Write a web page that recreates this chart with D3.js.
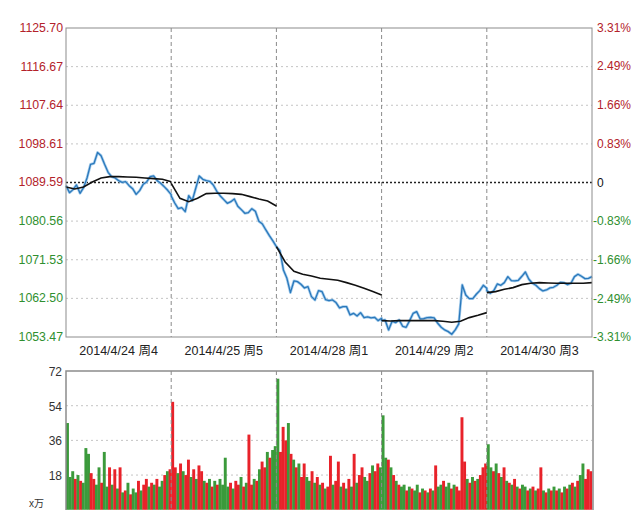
<!DOCTYPE html>
<html>
<head>
<meta charset="utf-8">
<script src="https://cdn.jsdelivr.net/npm/d3@7"></script>
<style>
  body { margin: 0; background: #fff; }
  svg text { font-family: "Liberation Sans", Arial, "Noto Sans CJK SC", sans-serif; }
</style>
</head>
<body>
<script>
// trading days (x labels)
const days = ["2014/4/24 周4", "2014/4/25 周5", "2014/4/28 周1", "2014/4/29 周2", "2014/4/30 周3"];
const prevClose = 1089.59;
const priceTicks = [1125.70, 1116.67, 1107.64, 1098.61, 1089.59, 1080.56, 1071.53, 1062.50, 1053.47];
const pctTicks = [3.31, 2.49, 1.66, 0.83, 0, -0.83, -1.66, -2.49, -3.31];
const volTicks = [72, 54, 36, 18];

// index price, one value every 8 minutes (0..240) per day
const price1 = [1088.85, 1087.21, 1087.92, 1089.01, 1087.06, 1088.38, 1090.64, 1093.84, 1094.07, 1096.60, 1095.86,
  1093.84, 1091.97, 1090.95, 1090.64, 1090.02, 1089.63, 1089.78, 1088.85, 1088.15, 1086.82, 1087.68,
  1089.16, 1089.71, 1090.95, 1091.11, 1090.02, 1089.40, 1088.62, 1087.76, 1086.75];
const price2 = [1086.44, 1084.80, 1083.47, 1083.71, 1082.77, 1086.51, 1085.34, 1088.23, 1091.11, 1090.33, 1090.02,
  1089.86, 1089.01, 1087.53, 1086.44, 1085.58, 1084.72, 1085.11, 1085.73, 1084.02, 1083.24, 1082.38,
  1082.54, 1083.47, 1082.85, 1080.51, 1079.89, 1078.49, 1077.16, 1075.92, 1074.59];
const price3 = [1074.59, 1073.66, 1069.14, 1067.19, 1063.84, 1066.57, 1066.41, 1065.79, 1064.93, 1065.25, 1062.91,
  1062.13, 1064.31, 1064.08, 1062.21, 1061.97, 1062.13, 1061.51, 1060.26, 1060.57, 1060.57, 1058.63,
  1059.01, 1058.39, 1059.17, 1058.00, 1058.16, 1057.92, 1058.08, 1057.30, 1057.85];
const price4 = [1057.30, 1057.46, 1055.12, 1057.15, 1056.83, 1057.46, 1055.98, 1055.74, 1057.30, 1059.01, 1059.40,
  1057.69, 1057.77, 1058.00, 1058.08, 1057.92, 1056.68, 1055.74, 1055.12, 1054.73, 1054.11, 1055.12,
  1056.52, 1065.64, 1063.30, 1062.44, 1062.44, 1063.46, 1064.31, 1065.56, 1064.86];
const price5 = [1064.31, 1063.69, 1064.31, 1065.87, 1065.56, 1066.18, 1067.58, 1066.65, 1066.57, 1066.73, 1067.66,
  1068.67, 1066.96, 1066.03, 1065.56, 1064.78, 1064.23, 1064.47, 1064.94, 1065.09, 1065.56, 1066.26,
  1066.18, 1065.71, 1066.03, 1067.58, 1068.13, 1067.66, 1067.12, 1067.19, 1067.58];

// average price, one value every 20 minutes per day
const avg1 = [1088.54, 1088.07, 1088.54, 1089.71, 1090.64, 1090.95, 1090.95, 1090.88, 1090.80, 1090.64, 1090.49, 1090.33, 1089.78];
const avg2 = [1089.40, 1085.89, 1085.11, 1085.89, 1086.98, 1087.06, 1087.06, 1086.98, 1086.82, 1086.28, 1085.73, 1085.27, 1084.10];
const avg3 = [1074.59, 1071.01, 1068.83, 1068.13, 1067.74, 1067.19, 1066.96, 1066.73, 1066.18, 1065.56, 1064.86, 1064.08, 1063.30];
const avg4 = [1057.30, 1057.22, 1057.30, 1057.30, 1057.30, 1057.30, 1057.30, 1057.15, 1056.91, 1057.15, 1058.00, 1058.55, 1059.17];
const avg5 = [1063.84, 1064.08, 1064.62, 1065.01, 1065.71, 1066.03, 1066.18, 1066.10, 1066.03, 1066.03, 1066.03, 1066.03, 1066.18];

// volume (x万), one bar every 6 minutes; r = up, g = down
const vol1 = [45, 17, 20, 16, 18, 15, 14, 32, 29, 19, 16, 13, 22, 14, 30, 12, 22, 13, 21, 11,
  22, 9, 10, 14, 8, 11, 9, 15, 10, 13, 16, 12, 14, 13, 16, 12, 15, 18, 20, 21];
const dir1 = "gggrgrgggrrggrggrgrgrgrgrggrgrrgrgrggrgr";
const vol2 = [56, 22, 19, 24, 20, 18, 26, 17, 21, 16, 23, 20, 15, 14, 16, 12, 15, 13, 16, 13,
  27, 12, 14, 11, 15, 13, 17, 12, 14, 39, 13, 16, 15, 21, 25, 22, 30, 27, 31, 33];
const dir2 = "rrgrgrrgrgrrgrgrgrggggrgrrgrgrrgrgrrgrgg";
const vol3 = [68, 30, 43, 36, 45, 29, 26, 22, 24, 17, 24, 17, 15, 20, 14, 17, 13, 14, 11, 12,
  28, 13, 15, 25, 12, 14, 11, 16, 12, 29, 14, 18, 22, 17, 15, 19, 23, 20, 24, 22];
const dir3 = "grrrgrgrgrrggrgrgrgrrgrrgrgrgrgrrggrgrrg";
const vol4 = [49, 27, 26, 22, 18, 15, 13, 12, 13, 10, 12, 11, 10, 13, 9, 11, 10, 9, 11, 10,
  23, 12, 13, 15, 12, 14, 11, 13, 12, 10, 48, 25, 16, 14, 17, 15, 16, 18, 22, 24];
const dir4 = "ggrgrgrggrgrggrgrgrgrggrggrgrrrrgrgrgrrr";
const vol5 = [34, 22, 20, 24, 19, 17, 22, 15, 14, 13, 16, 12, 11, 13, 12, 10, 11, 12, 10, 11,
  22, 10, 9, 11, 10, 12, 10, 11, 9, 12, 11, 13, 14, 12, 15, 18, 24, 16, 21, 20];
const dir5 = "ggrgrgrgrgrgrggrgrgrrgrgrgrgrgrgrgrggrrr";

const prices = [price1, price2, price3, price4, price5];
const avgs = [avg1, avg2, avg3, avg4, avg5];
const vols = [vol1, vol2, vol3, vol4, vol5];
const dirs = [dir1, dir2, dir3, dir4, dir5];

const W = 634, H = 510;
const left = 66, right = 592;
const top1 = 28, bot1 = 337;
const top2 = 371, bot2 = 509.75;
const RED = "#b3222a", GREEN = "#2f8f2f";

const svg = d3.select("body").append("svg").attr("width", W).attr("height", H);

const x = d3.scaleLinear().domain([0, 1200]).range([left, right]);
const y = d3.scaleLinear().domain([1053.47, 1125.70]).range([bot1, top1]);
const yPct = d3.scaleLinear().domain([-3.31, 3.31]).range([bot1, top1]);
const yVol = d3.scaleLinear().domain([0, 72]).range([bot2, top2]);

// grid, top panel
svg.append("g")
  .selectAll("line")
  .data(priceTicks.filter(d => d != 1125.70 && d != 1053.47))
  .enter()
  .append("line")
  .attr("x1", left).attr("x2", right)
  .attr("y1", d => y(d)).attr("y2", d => y(d))
  .attr("stroke", d => d == prevClose ? "#222" : "#c4c4c4")
  .attr("stroke-width", d => d == prevClose ? 1.6 : 1)
  .attr("stroke-dasharray", d => d == prevClose ? "2,2" : "2,3");

// grid, bottom panel
svg.append("g")
  .selectAll("line")
  .data(volTicks.filter(d => d != 72))
  .enter()
  .append("line")
  .attr("x1", left).attr("x2", right)
  .attr("y1", d => yVol(d)).attr("y2", d => yVol(d))
  .attr("stroke", "#c4c4c4")
  .attr("stroke-dasharray", "2,3");

// volume bars
const bw = x(6) - x(0);
vols.forEach((v, d) => {
  svg.append("g")
    .selectAll("rect")
    .data(v)
    .enter()
    .append("rect")
    .attr("x", (val, i) => x(d * 240 + i * 6))
    .attr("width", bw + 0.3)
    .attr("y", val => yVol(val))
    .attr("height", val => yVol(0) - yVol(val))
    .attr("fill", (val, i) => dirs[d][i] == "r" ? "#e8222a" : "#3b9a3b");
});

// day separators
[1, 2, 3, 4].forEach(d => {
  [[top1, bot1], [top2, H]].forEach(r => {
    svg.append("line")
      .attr("x1", x(d * 240)).attr("x2", x(d * 240))
      .attr("y1", r[0]).attr("y2", r[1])
      .attr("stroke", "#8a8a8a")
      .attr("stroke-dasharray", "4,3");
  });
});

// price line (continuous)
let pts = [];
prices.forEach((p, d) => p.forEach((v, i) => pts.push([d * 240 + i * 8, v])));
const line = d3.line().x(d => x(d[0])).y(d => y(d[1]));
svg.append("path").datum(pts).attr("d", line)
  .attr("fill", "none").attr("stroke", "#a6cdec").attr("stroke-width", 2.8).attr("stroke-linejoin", "round");
svg.append("path").datum(pts).attr("d", line)
  .attr("fill", "none").attr("stroke", "#2a78bb").attr("stroke-width", 1.3).attr("stroke-linejoin", "round");

// average line (restarts each day)
avgs.forEach((a, d) => {
  svg.append("path")
    .datum(a.map((v, i) => [d * 240 + i * 20, v]))
    .attr("d", line)
    .attr("fill", "none")
    .attr("stroke", "#111")
    .attr("stroke-width", 1.6);
});

// frames
svg.append("rect").attr("x", left).attr("y", top1).attr("width", right - left).attr("height", bot1 - top1)
  .attr("fill", "none").attr("stroke", "#8c8c8c");
svg.append("rect").attr("x", left).attr("y", top2).attr("width", right - left + 1).attr("height", 200)
  .attr("fill", "none").attr("stroke", "#8c8c8c").attr("stroke-width", 1.5);

// left price axis
svg.append("g")
  .selectAll("text")
  .data(priceTicks)
  .enter()
  .append("text")
  .attr("x", left - 3)
  .attr("y", d => y(d) + 4)
  .attr("text-anchor", "end")
  .attr("font-size", 12.3)
  .attr("fill", d => d >= prevClose ? RED : GREEN)
  .text(d => d.toFixed(2));

// right percent axis
svg.append("g")
  .selectAll("text")
  .data(pctTicks)
  .enter()
  .append("text")
  .attr("x", d => d < 0 ? right + 1 : right + 5)
  .attr("y", d => yPct(d) + 4)
  .attr("font-size", 12)
  .attr("fill", d => d > 0 ? RED : d < 0 ? GREEN : "#111")
  .text(d => d == 0 ? "0" : d.toFixed(2) + "%");

// date labels
svg.append("g")
  .selectAll("text")
  .data(days)
  .enter()
  .append("text")
  .attr("x", (d, i) => x(i * 240 + 120))
  .attr("y", bot1 + 18)
  .attr("text-anchor", "middle")
  .attr("font-size", 12.5)
  .attr("fill", "#222")
  .text(d => d);

// volume axis
svg.append("g")
  .selectAll("text")
  .data(volTicks)
  .enter()
  .append("text")
  .attr("x", left - 4)
  .attr("y", d => yVol(d) + 5)
  .attr("text-anchor", "end")
  .attr("font-size", 12)
  .attr("fill", "#333")
  .text(d => d);
svg.append("text")
  .attr("x", 44).attr("y", 507)
  .attr("text-anchor", "end")
  .attr("font-size", 10)
  .attr("fill", "#333")
  .text("x万");
</script>
</body>
</html>
